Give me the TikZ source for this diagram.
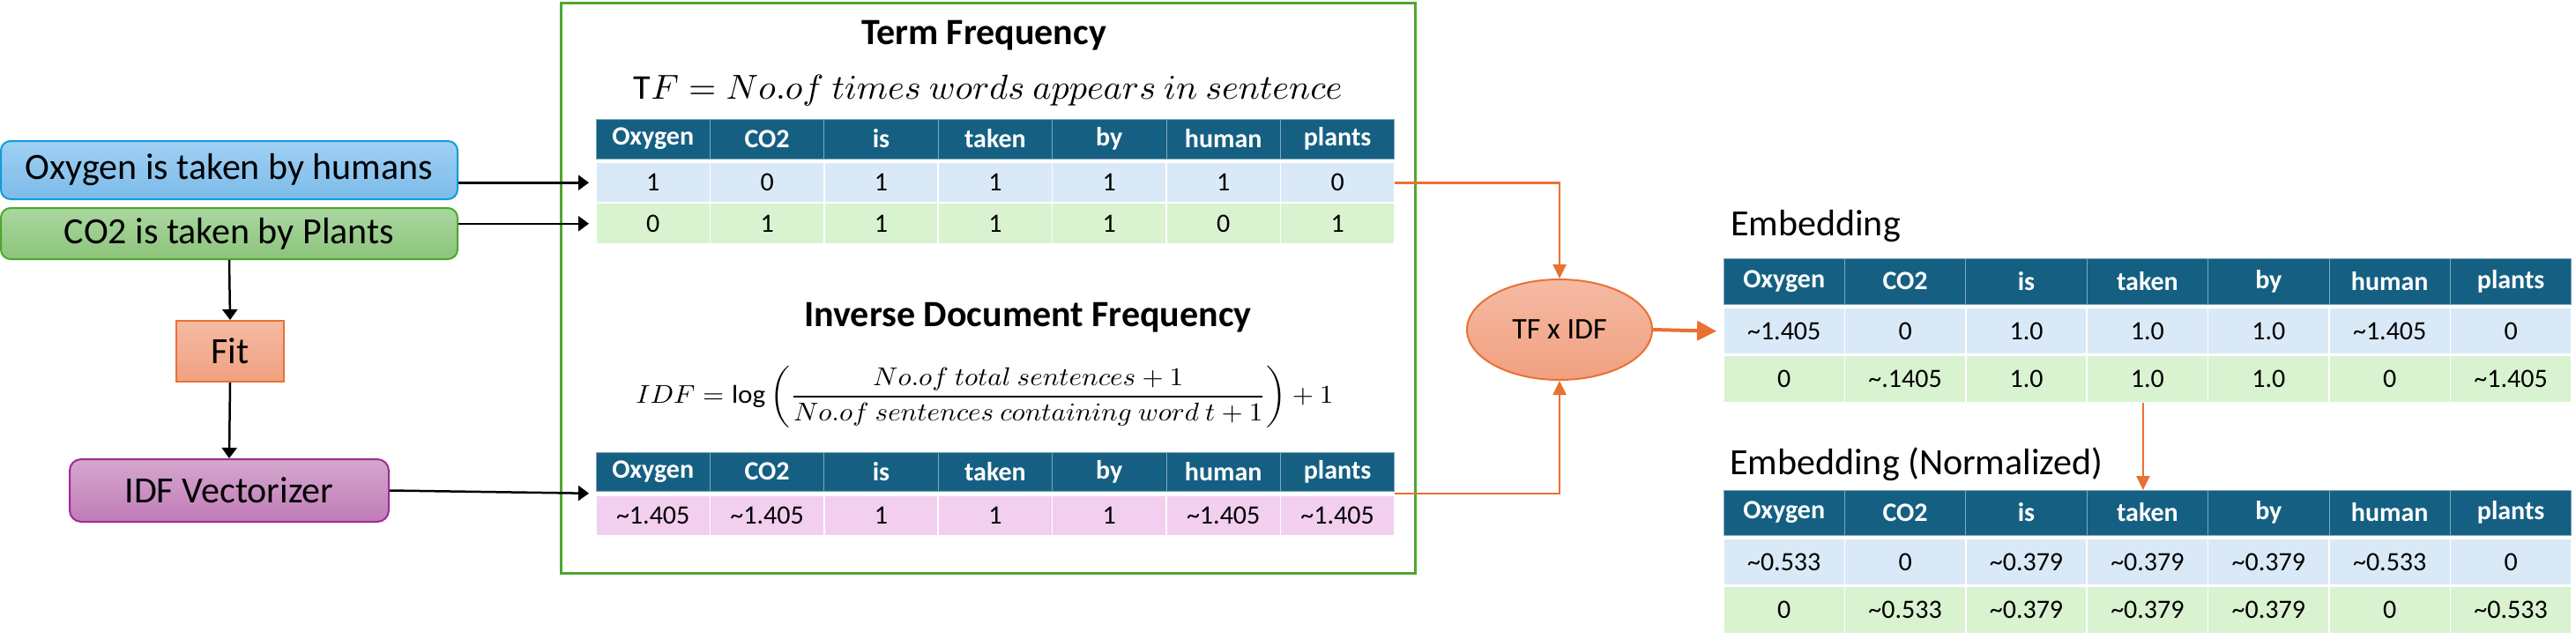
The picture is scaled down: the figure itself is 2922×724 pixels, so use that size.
\documentclass[tikz,border=0pt]{standalone}
\usepackage{amsmath}
\usepackage{fontspec}
\setmainfont{Carlito}
\usepackage{graphicx}
\usetikzlibrary{arrows.meta,shapes.geometric,calc}
\definecolor{hdr}{HTML}{156082}
\definecolor{rowblue}{HTML}{DAE9F7}
\definecolor{rowgreen}{HTML}{D9F2D0}
\definecolor{rowpink}{HTML}{F2CEEF}
\definecolor{panelgreen}{HTML}{4EA72E}
\definecolor{orng}{HTML}{E97132}
\definecolor{blueedge}{HTML}{0F9ED5}
\definecolor{bluetop}{HTML}{A0D0F4}
\definecolor{bluebot}{HTML}{7CBBE9}
\definecolor{greentop}{HTML}{ABD7A0}
\definecolor{greenbot}{HTML}{8CC47B}
\definecolor{orangetop}{HTML}{F5BAA4}
\definecolor{orangebot}{HTML}{F1A080}
\definecolor{purpleedge}{HTML}{A02B93}
\definecolor{purpletop}{HTML}{D5A7CF}
\definecolor{purplebot}{HTML}{C07CB6}
\newcommand{\apx}{\textasciitilde}
\newcommand{\tabrow}[7]{%
  \foreach \t [count=\i] in {#7} {
    \node[#6, minimum width=#4pt, minimum height=#5pt, anchor=north west]
      (#1\i) at ({#2+(\i-1)*#4},#3) {\t};
  }}
\begin{document}
\begin{tikzpicture}[x=1pt,y=-1pt,
  cellbase/.style={inner sep=0pt, outer sep=0pt, font=\fontsize{30}{32}\selectfont},
  hcell/.style={cellbase, fill=hdr, draw=hdr!55!white, line width=1pt, text=white, font=\fontsize{30}{32}\selectfont\bfseries},
  bcell/.style={cellbase, fill=rowblue, draw=white, line width=1.5pt},
  gcell/.style={cellbase, fill=rowgreen, draw=white, line width=1.5pt},
  pcell/.style={cellbase, fill=rowpink, draw=white, line width=1.5pt},
  label/.style={font=\fontsize{42}{44}\selectfont, inner sep=0pt},
  title/.style={font=\fontsize{42}{44}\selectfont\bfseries, inner sep=0pt},
  inbox/.style={font=\fontsize{42}{44}\selectfont, inner sep=0pt, line width=2pt},
  blk/.style={line width=2.5pt, -{Triangle[length=12pt,width=17pt]}},
  org/.style={draw=orng, line width=2.5pt, -{Triangle[length=16pt,width=15pt]}},
]
\useasboundingbox (0,0) rectangle (2922,724);

% left input boxes
\node[inbox, draw=blueedge, top color=bluetop, bottom color=bluebot, rounded corners=11pt,
      minimum width=518pt, minimum height=66pt] (ox) at (260,193) {Oxygen is taken by humans};
\node[inbox, draw=panelgreen, top color=greentop, bottom color=greenbot, rounded corners=11pt,
      minimum width=518pt, minimum height=58pt] (co) at (260,265) {CO2 is taken by Plants};
\node[inbox, draw=orng, top color=orangetop, bottom color=orangebot,
      minimum width=122pt, minimum height=69pt] (fit) at (261,398.5) {Fit};
\node[inbox, draw=purpleedge, top color=purpletop, bottom color=purplebot, rounded corners=13pt,
      minimum width=362pt, minimum height=71pt] (vec) at (260,556.5) {IDF Vectorizer};

% central panel
\node[draw=panelgreen, line width=3pt, minimum width=969pt, minimum height=647pt,
      anchor=north west, inner sep=0pt] (panel) at (635,2) {};

\node[title] (tftitle) at (1116,40) {Term Frequency};
\node[inner sep=0pt] (tfform) at (1121,103)
  {\resizebox*{804pt}{35pt}{$\mathrm{T}F=No.of\ times\ words\ appears\ in\ sentence$}};

\tabrow{tfh}{676}{135}{129.4}{45}{hcell}{Oxygen,CO2,is,taken,by,human,plants}
\tabrow{tfa}{676}{184.5}{129.4}{45.5}{bcell}{1,0,1,1,1,1,0}
\tabrow{tfb}{676}{230.5}{129.4}{46.5}{gcell}{0,1,1,1,1,0,1}

\node[title] (idftitle) at (1166,360) {Inverse Document Frequency};
\node[inner sep=0pt] (idfform) at (1117,450)
  {\resizebox*{791pt}{70pt}{$IDF=\log\left(\dfrac{No.of\ total\ sentences+1}{No.of\ sentences\ containing\ word\ t+1}\right)+1$}};

\tabrow{idh}{676}{513}{129.4}{44}{hcell}{Oxygen,CO2,is,taken,by,human,plants}
\tabrow{idr}{676}{562.5}{129.4}{45}{pcell}{\apx1.405,\apx1.405,1,1,1,\apx1.405,\apx1.405}

% TF x IDF
\node[ellipse, draw=orng, line width=2pt, top color=orangetop, bottom color=orangebot,
      minimum width=210pt, minimum height=114pt, inner sep=0pt,
      font=\fontsize{34}{36}\selectfont] (mult) at (1769,374) {TF x IDF};

% Embedding tables
\node[label, anchor=base west] (embtitle) at (1963,267) {Embedding};
\tabrow{emh}{1955}{293}{137.4}{52}{hcell}{Oxygen,CO2,is,taken,by,human,plants}
\tabrow{ema}{1955}{349.5}{137.4}{52.5}{bcell}{\apx1.405,0,1.0,1.0,1.0,\apx1.405,0}
\tabrow{emb}{1955}{403.5}{137.4}{53.5}{gcell}{0,\apx.1405,1.0,1.0,1.0,0,\apx1.405}

\node[label, anchor=base west] (nmtitle) at (1962,538) {Embedding (Normalized)};
\tabrow{nmh}{1955}{556}{137.4}{51}{hcell}{Oxygen,CO2,is,taken,by,human,plants}
\tabrow{nma}{1955}{611.5}{137.4}{52}{bcell}{\apx0.533,0,\apx0.379,\apx0.379,\apx0.379,\apx0.533,0}
\tabrow{nmb}{1955}{665.5}{137.4}{53}{gcell}{0,\apx0.533,\apx0.379,\apx0.379,\apx0.379,0,\apx0.533}

% black connectors
\draw[blk] (ox.east |- tfa1.west) -- ([xshift=-8pt]tfa1.west);
\draw[blk] (co.east |- tfb1.west) -- ([xshift=-8pt]tfb1.west);
\draw[blk] (co.south) -- (fit.north);
\draw[blk] (fit.south) -- (vec.north);
\coordinate (idgapL) at ($(idh1.south west)!0.5!(idr1.north west)$);
\draw[blk] (vec.east) -- ([xshift=-8pt]idgapL);

% orange connectors
\draw[org] (tfa7.east) -| (mult.north);
\coordinate (idgapR) at ($(idh7.south east)!0.5!(idr7.north east)$);
\draw[org] (idgapR) -| (mult.south);
\draw[draw=orng, line width=4pt, -{Triangle[length=22pt,width=22pt]}] (mult.east) -- ([xshift=-8pt]ema1.west);
\draw[org] ([xshift=-5pt]emb4.south) -- ([xshift=-5pt]nmh4.north);
\end{tikzpicture}
\end{document}
